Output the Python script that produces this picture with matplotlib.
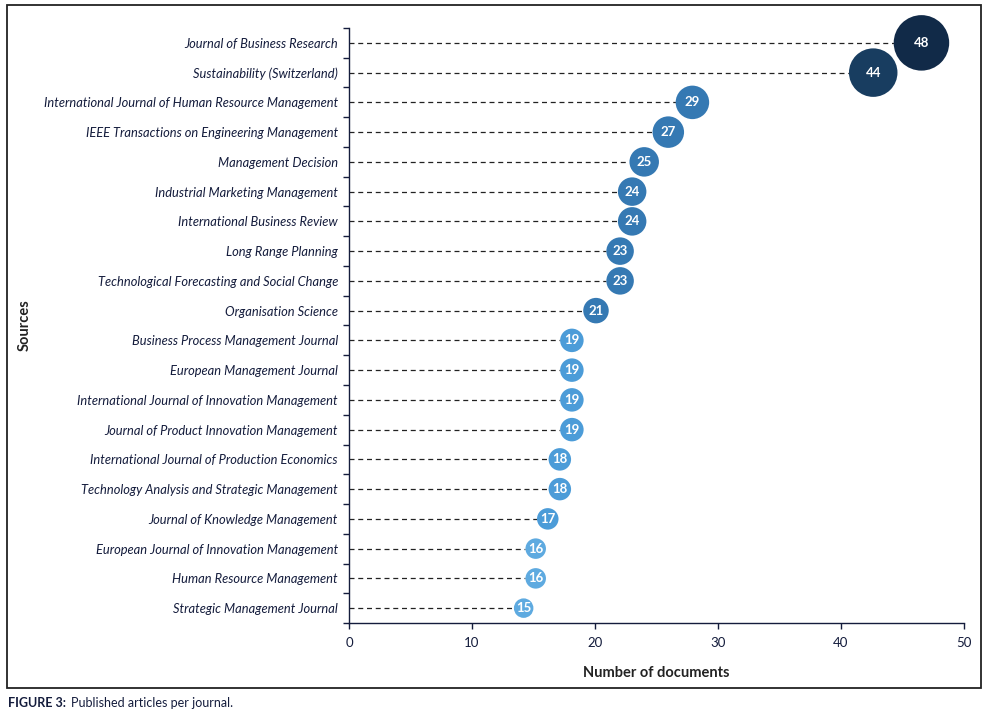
import numpy as np
import matplotlib.pyplot as plt
from matplotlib.patches import Rectangle

sources = ["Journal of Business Research", "Sustainability (Switzerland)",
           "International Journal of Human Resource Management",
           "IEEE Transactions on Engineering Management", "Management Decision",
           "Industrial Marketing Management", "International Business Review",
           "Long Range Planning", "Technological Forecasting and Social Change",
           "Organisation Science", "Business Process Management Journal",
           "European Management Journal", "International Journal of Innovation Management",
           "Journal of Product Innovation Management",
           "International Journal of Production Economics",
           "Technology Analysis and Strategic Management",
           "Journal of Knowledge Management", "European Journal of Innovation Management",
           "Human Resource Management", "Strategic Management Journal"]
docs = [48, 44, 29, 27, 25, 24, 24, 23, 23, 21, 19, 19, 19, 19, 18, 18, 17, 16, 16, 15]
xticks = [0, 10, 20, 30, 40, 50]

navy = "#141c3c"

def bubble_colour(v):
    if v >= 46:
        return "#112a48"
    if v >= 40:
        return "#183d60"
    if v >= 20:
        return "#3579b3"
    if v >= 17:
        return "#4c9cd8"
    return "#5eaae0"

plt.rcParams['font.family'] = ['Lato', 'DejaVu Sans']

fig = plt.figure(figsize=(9.86, 7.16), dpi=100)
ax = fig.add_axes([349/986, 1 - 623/716, 615/986, 595/716])

y = np.arange(len(docs))
vals = np.array(docs, dtype=float)
# bubbles sit a little left of the value, as in the original
cx = vals - (0.5 + 0.02 * vals)
diam_px = 4.5 + vals
diam_px[0] += 3
sizes = (diam_px * 72 / 100) ** 2
cols = [bubble_colour(v) for v in docs]

for yi, xi, d in zip(y, cx, diam_px):
    ax.plot([0, xi - d / 2 / 12.3], [yi, yi], ls=(0, (4, 3)), color="#222222", lw=0.9, zorder=1)

ax.scatter(cx, y, s=sizes, c=cols, edgecolors="none", zorder=2, clip_on=False)
for yi, xi, v in zip(y, cx, docs):
    ax.text(xi, yi, str(v), ha="center", va="center", color="white",
            fontsize=9.5, fontweight="bold", zorder=3)

ax.set_xlim(0, 50)
ax.set_ylim(len(docs) - 0.5, -0.5)
ax.set_xticks(xticks)
ax.set_xticklabels([str(t) for t in xticks], fontsize=9.5, color=navy)
ax.set_yticks(y)
ax.set_yticklabels(sources, fontsize=9.3, style="italic", color=navy)
ax.set_yticks(np.arange(-0.5, len(docs)), minor=True)
ax.tick_params(axis="y", which="major", length=0, pad=8)
ax.tick_params(axis="y", which="minor", length=4, color=navy, width=1)
ax.tick_params(axis="x", length=4, color=navy, width=1, pad=6)

for s in ["top", "right"]:
    ax.spines[s].set_visible(False)
for s in ["left", "bottom"]:
    ax.spines[s].set_color(navy)
    ax.spines[s].set_linewidth(1)

ax.set_xlabel("Number of documents", fontsize=10.5, fontweight="bold", color="#222222", labelpad=12)
ax.set_ylabel("Sources", fontsize=10.5, fontweight="bold", color="#222222")
ax.yaxis.set_label_coords(-349/615 + 32/615, 0.5)

fig.patches.append(Rectangle((7/986, 1 - 688/716), 974/986, 683/716, transform=fig.transFigure,
                             fill=False, edgecolor="#222222", lw=1.3))
fig.text(8/986, 1 - 703/716, "FIGURE 3:", fontsize=9, fontweight="bold", color=navy, va="center")
fig.text(71/986, 1 - 703/716, "Published articles per journal.", fontsize=9, color=navy, va="center")

fig.savefig("out.png", dpi=100)
